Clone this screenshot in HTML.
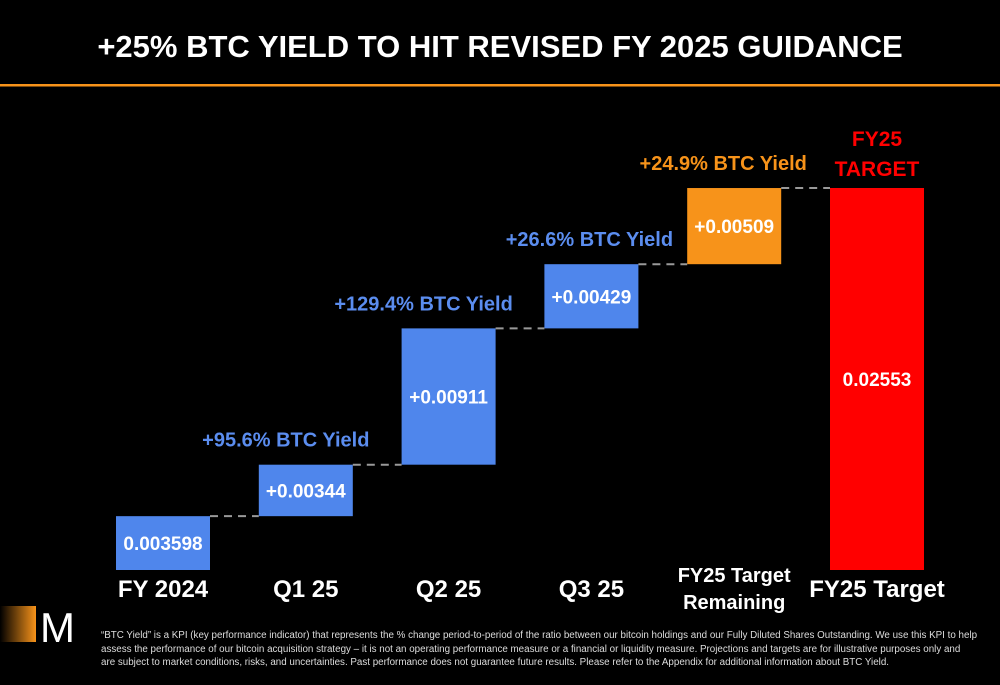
<!DOCTYPE html>
<html><head><meta charset="utf-8"><style>
body{margin:0;background:#000;width:1000px;height:685px;overflow:hidden;font-family:"Liberation Sans",sans-serif}
svg{display:block}
</style></head><body>
<svg id="chart" width="1000" height="685" viewBox="0 0 1000 685">
<rect width="1000" height="685" fill="#000"/>
<text x="500" y="57" text-anchor="middle" fill="#fff" font-size="31" font-weight="bold">+25% BTC YIELD TO HIT REVISED FY 2025 GUIDANCE</text>
<rect x="0" y="84" width="1000" height="2.5" fill="#f7931a"/>
<g id="marks"></g>
<defs><linearGradient id="lg" x1="0" x2="1"><stop offset="0" stop-color="#000"/><stop offset="1" stop-color="#f7931a"/></linearGradient></defs>
<g>
<rect x="0" y="606" width="36" height="36" fill="url(#lg)"/>
<text x="40" y="642" fill="#fff" font-size="42">M</text>
</g>
<g font-size="9.8" fill="#ddd">
<text x="101" y="638">“BTC Yield” is a KPI (key performance indicator) that represents the % change period-to-period of the ratio between our bitcoin holdings and our Fully Diluted Shares Outstanding. We use this KPI to help</text>
<text x="101" y="652">assess the performance of our bitcoin acquisition strategy – it is not an operating performance measure or a financial or liquidity measure. Projections and targets are for illustrative purposes only and</text>
<text x="101" y="665">are subject to market conditions, risks, and uncertainties. Past performance does not guarantee future results. Please refer to the Appendix for additional information about BTC Yield.</text>
</g>
</svg>
<script>
const categories=["FY 2024","Q1 25","Q2 25","Q3 25","FY25 Target Remaining","FY25 Target"];
const values=[0.003598,0.00344,0.00911,0.00429,0.00509,0.02553];
const valueLabels=["0.003598","+0.00344","+0.00911","+0.00429","+0.00509","0.02553"];
const yieldLabels=["","+95.6% BTC Yield","+129.4% BTC Yield","+26.6% BTC Yield","+24.9% BTC Yield",""];
const NS="http://www.w3.org/2000/svg";
const g=document.getElementById('marks');
const base=570,total=0.02553,ph=382;
const y=v=>base-v/total*ph;
const x0=116,step=142.8,bw=94;
const xs=i=>x0+i*step;
const yOff=[0,-20,-25,-2,-11,0];
function el(t,a,txt){const e=document.createElementNS(NS,t);for(const k in a)e.setAttribute(k,a[k]);if(txt!==undefined)e.textContent=txt;g.appendChild(e);return e;}
let cum=0;const tops=[];
values.forEach((v,i)=>{
 let lo,hi,col;
 if(i===0){lo=0;hi=v;col="#4f86ec";}
 else if(i===values.length-1){lo=0;hi=v;col="#ff0000";}
 else{lo=cum;hi=cum+v;col=i===4?"#f7931a":"#4f86ec";}
 if(i<values.length-1)cum=hi;
 tops.push(hi);
 const r=el('rect',{x:xs(i),y:y(hi),width:bw,height:y(lo)-y(hi),fill:col});
 
 
 const t=el('text',{x:xs(i)+bw/2,y:(y(hi)+y(lo))/2+7,'text-anchor':'middle',fill:'#fff','font-size':19,'font-weight':'bold'},valueLabels[i]);
 
 
 if(yieldLabels[i]){
  const yl=el('text',{x:xs(i)+bw/2+yOff[i],y:y(hi)-18,'text-anchor':'middle',fill:i===4?'#f7931a':'#5b8def','font-size':20,'font-weight':'bold'},yieldLabels[i]);
  
  
 }
 const parts=categories[i]==="FY25 Target Remaining"?["FY25 Target","Remaining"]:[categories[i]];
 parts.forEach((p,k)=>{
  const c=el('text',{x:xs(i)+bw/2,y:parts.length>1?582+k*27:597,'text-anchor':'middle',fill:'#fff','font-size':parts.length>1?20:24,'font-weight':'bold'},p);
  
  
 });
});
for(let i=0;i<values.length-1;i++){
 const l=el('line',{x1:xs(i)+bw,x2:xs(i+1),y1:y(tops[i]),y2:y(tops[i]),stroke:'#999','stroke-width':2,'stroke-dasharray':'8,6'});
 
 
}
const last=values.length-1;
["FY25","TARGET"].forEach((s,k)=>{
 const t=el('text',{x:xs(last)+bw/2,y:y(tops[last])-42+k*30,'text-anchor':'middle',fill:'#ff0000','font-size':21,'font-weight':'bold'},s);
 
 
});
</script>
</body></html>
